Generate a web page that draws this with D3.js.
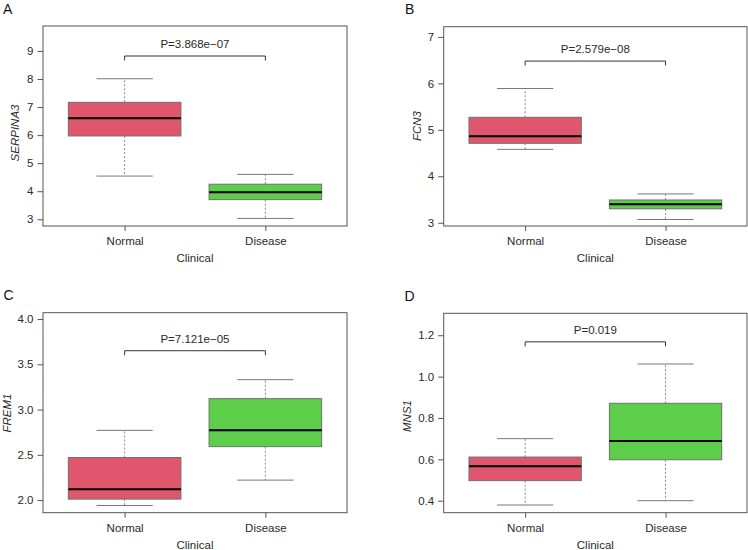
<!DOCTYPE html>
<html>
<head>
<meta charset="utf-8">
<script src="https://cdn.jsdelivr.net/npm/d3@7"></script>
<style>
  html, body { margin: 0; padding: 0; background: #fff; }
  svg { display: block; }
  text { font-family: "Liberation Sans", Arial, Helvetica, sans-serif; }
</style>
</head>
<body>
<script>
// ---------- data ----------
const groups = ["Normal", "Disease"];
const panelLetters = ["A", "B", "C", "D"];
const genes = ["SERPINA3", "FCN3", "FREM1", "MNS1"];
const pLabels = ["P=3.868e\u221207", "P=2.579e\u221208", "P=7.121e\u221205", "P=0.019"];
const xTitle = "Clinical";

// five-number summaries: [min, q1, median, q3, max]
const serpina3Normal  = [4.54, 5.97, 6.60, 7.17, 8.01];
const serpina3Disease = [3.03, 3.70, 3.96, 4.25, 4.60];
const fcn3Normal      = [4.58, 4.71, 4.86, 5.27, 5.89];
const fcn3Disease     = [3.07, 3.30, 3.40, 3.49, 3.62];
const frem1Normal     = [1.94, 2.01, 2.12, 2.47, 2.77];
const frem1Disease    = [2.22, 2.59, 2.77, 3.12, 3.33];
const mns1Normal      = [0.379, 0.497, 0.566, 0.611, 0.700];
const mns1Disease     = [0.400, 0.598, 0.689, 0.871, 1.061];

const bracketLevels = [8.82, 6.48, 3.65, 1.168];

const serpina3Ticks = [3, 4, 5, 6, 7, 8, 9];
const fcn3Ticks     = [3, 4, 5, 6, 7];
const frem1Ticks    = [2.0, 2.5, 3.0, 3.5, 4.0];
const mns1Ticks     = [0.4, 0.6, 0.8, 1.0, 1.2];

const serpina3Limits = [2.76, 9.89];
const fcn3Limits     = [2.93, 7.22];
const frem1Limits    = [1.86, 4.07];
const mns1Limits     = [0.342, 1.306];

const panelStats  = [[serpina3Normal, serpina3Disease], [fcn3Normal, fcn3Disease],
                     [frem1Normal, frem1Disease], [mns1Normal, mns1Disease]];
const panelTicks  = [serpina3Ticks, fcn3Ticks, frem1Ticks, mns1Ticks];
const panelLimits = [serpina3Limits, fcn3Limits, frem1Limits, mns1Limits];
const tickFormats = [d3.format("d"), d3.format("d"), d3.format(".1f"), d3.format(".1f")];

// ---------- layout / style ----------
const W = 748, H = 550;
const layout = [
  {x0: 43,    x1: 347, y0: 26,    y1: 226,   ylabX: 18.5, ylabY: 133, letterX: 3,     letterY: 14},
  {x0: 443.7, x1: 747, y0: 26.7,  y1: 226,   ylabX: 421,  ylabY: 126, letterX: 405,   letterY: 13.5},
  {x0: 43,    x1: 347, y0: 312.7, y1: 512.7, ylabX: 11,   ylabY: 413, letterX: 3.5,   letterY: 300},
  {x0: 443.7, x1: 747, y0: 313.3, y1: 512.7, ylabX: 411,  ylabY: 416, letterX: 404.5, letterY: 300.5}
];
const fills = ["#E0566C", "#5DCE4A"];
const frameColor = "#555";
const textColor = "#2a2a2a";
const fontSize = 11.5;

const svg = d3.select("body").append("svg").attr("width", W).attr("height", H);

panelStats.forEach((stats, i) => {
  const L = layout[i];
  const g = svg.append("g");

  const x = d3.scaleLinear().domain([0.42, 2.58]).range([L.x0, L.x1]);
  const y = d3.scaleLinear().domain(panelLimits[i]).range([L.y1, L.y0]);
  const boxHalf = 0.4, capHalf = 0.2;

  // panel letter
  g.append("text").attr("x", L.letterX).attr("y", L.letterY)
    .attr("font-size", 14).attr("fill", "#111").text(panelLetters[i]);

  // boxes
  stats.forEach((s, k) => {
    const cx = k + 1;
    const [mn, q1, md, q3, mx] = s;
    const bg = g.append("g");
    // whiskers (dashed)
    [[q3, mx], [q1, mn]].forEach(([a, b]) => {
      bg.append("line").attr("x1", x(cx)).attr("x2", x(cx))
        .attr("y1", y(a)).attr("y2", y(b))
        .attr("stroke", "#888").attr("stroke-width", 1).attr("stroke-dasharray", "2,2");
    });
    // caps
    [mn, mx].forEach(v => {
      bg.append("line").attr("x1", x(cx - capHalf)).attr("x2", x(cx + capHalf))
        .attr("y1", y(v)).attr("y2", y(v))
        .attr("stroke", "#777").attr("stroke-width", 1);
    });
    // box
    bg.append("rect").attr("x", x(cx - boxHalf)).attr("y", y(q3))
      .attr("width", x(cx + boxHalf) - x(cx - boxHalf)).attr("height", y(q1) - y(q3))
      .attr("fill", fills[k]).attr("stroke", "#707070").attr("stroke-width", 1);
    // median
    bg.append("line").attr("x1", x(cx - boxHalf)).attr("x2", x(cx + boxHalf))
      .attr("y1", y(md)).attr("y2", y(md))
      .attr("stroke", "#000").attr("stroke-width", 2);
  });

  // frame
  g.append("rect").attr("x", L.x0).attr("y", L.y0)
    .attr("width", L.x1 - L.x0).attr("height", L.y1 - L.y0)
    .attr("fill", "none").attr("stroke", frameColor).attr("stroke-width", 1);

  // y axis
  const yAxis = d3.axisLeft(y).tickValues(panelTicks[i]).tickFormat(tickFormats[i])
    .tickSize(5.5).tickPadding(4);
  const ya = g.append("g").attr("transform", `translate(${L.x0},0)`).call(yAxis);
  ya.select(".domain").remove();
  ya.selectAll(".tick line").attr("stroke", frameColor);
  ya.selectAll(".tick text").attr("fill", textColor).attr("font-size", fontSize)
    .attr("font-family", '"Liberation Sans", Arial, sans-serif');

  // x axis
  const xAxis = d3.axisBottom(x).tickValues([1, 2]).tickFormat(d => groups[d - 1])
    .tickSize(5).tickPadding(6);
  const xa = g.append("g").attr("transform", `translate(0,${L.y1})`).call(xAxis);
  xa.select(".domain").remove();
  xa.selectAll(".tick line").attr("stroke", frameColor);
  xa.selectAll(".tick text").attr("fill", textColor).attr("font-size", fontSize)
    .attr("font-family", '"Liberation Sans", Arial, sans-serif');

  // x title
  g.append("text").attr("x", (L.x0 + L.x1) / 2).attr("y", L.y1 + 36)
    .attr("text-anchor", "middle").attr("font-size", fontSize).attr("fill", textColor)
    .text(xTitle);

  // y title (italic gene name)
  g.append("text").attr("transform", `translate(${L.ylabX},${L.ylabY}) rotate(-90)`)
    .attr("text-anchor", "middle").attr("font-size", fontSize).attr("font-style", "italic")
    .attr("fill", textColor).text(genes[i]);

  // significance bracket
  const by = y(bracketLevels[i]);
  g.append("path")
    .attr("d", `M${x(1)},${by + 4.5}V${by}H${x(2)}V${by + 4.5}`)
    .attr("fill", "none").attr("stroke", "#333").attr("stroke-width", 1);
  g.append("text").attr("x", x(1.5)).attr("y", by - 8)
    .attr("text-anchor", "middle").attr("font-size", fontSize).attr("fill", textColor)
    .text(pLabels[i]);
});
</script>
</body>
</html>
